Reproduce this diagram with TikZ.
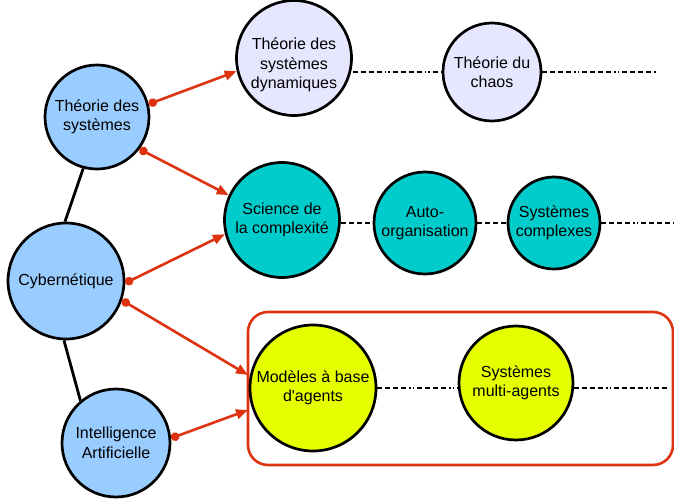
\documentclass[tikz,border=0pt]{standalone}
\usepackage{fontspec}
\setmainfont{Liberation Sans}[Ligatures=TeXOff]
\usetikzlibrary{arrows.meta}
\definecolor{lblue}{HTML}{99CCFF}
\definecolor{lav}{HTML}{E6E6FF}
\definecolor{teal2}{HTML}{00CCCC}
\definecolor{yel}{HTML}{E6FF00}
\definecolor{rd}{HTML}{DD3311}
\begin{document}
\begin{tikzpicture}[x=1pt,y=-1pt,
  circ/.style={circle,draw=black,line width=2.7pt,align=center,inner sep=0pt,font=\fontsize{16}{19.5}\selectfont},
  txt/.style={align=center,inner sep=0pt,font=\fontsize{16}{19.5}\selectfont},
  link/.style={line width=2.8pt,black},
  rarrow/.style={draw=rd,line width=2.6pt,{Circle[length=8.5pt]}-{Triangle[length=12pt,width=9.5pt]}},
  chain/.style={line width=2.7pt,black,dash pattern=on 5pt off 3pt on 5pt off 3pt on 5pt off 3pt on 5pt off 3pt on 1.5pt off 2pt on 1.5pt off 3pt}]
\useasboundingbox (0,0) rectangle (674,502);
\draw[rd,line width=2.6pt,rounded corners=20pt] (248,312) rectangle (673,465);
\node[circ,fill=lblue,minimum size=104pt] (ts) at (97,117) {Théorie des\\systèmes};
\node[circ,fill=lblue,minimum size=116pt] (cy) at (66,281) {Cybernétique};
\node[circ,fill=lblue,minimum size=108pt] (ia) at (116,443) {Intelligence\\Artificielle};
\node[circ,fill=lav,minimum size=115pt] (tsd) at (294,58) {};
\node[txt] (tsdl) at (294,65) {Théorie des\\systèmes\\dynamiques};
\node[circ,fill=lav,minimum size=98pt] (tc) at (492,72) {Théorie du\\chaos};
\node[circ,fill=teal2,minimum size=115pt] (sc) at (282,220) {Science de\\la complexité};
\node[circ,fill=teal2,minimum size=102pt] (ao) at (425,223) {Auto-\\organisation};
\node[circ,fill=teal2,minimum size=92pt] (sx) at (554,223) {Systèmes\\complexes};
\node[circ,fill=yel,minimum size=126pt] (mb) at (313,388) {Modèles à base\\d'agents};
\node[circ,fill=yel,minimum size=114pt] (sma) at (516,383) {Systèmes\\multi-agents};
\coordinate (e1) at (656,72);
\coordinate (e2) at (674,223);
\coordinate (e3) at (670,388);
\coordinate (r1) at (248,375);
\coordinate (r2) at (248,410);
\draw[link] (ts.255) -- (cy.91);
\draw[link] (cy.268) -- (ia.130);
\draw[chain] (tsd.east |- 0,72) -- (tc.west |- 0,72);
\draw[chain] (tc.east |- 0,72) -- (e1);
\draw[chain] (sc.east |- 0,223) -- (ao.west |- 0,223);
\draw[chain] (ao.east |- 0,223) -- (sx.west |- 0,223);
\draw[chain] (sx.east |- 0,223) -- (e2);
\draw[chain] (mb.east |- 0,388) -- (sma.west |- 0,388);
\draw[chain] (sma.east |- 0,388) -- (e3);
\draw[rarrow] (ts.14) -- (tsd.193);
\draw[rarrow] (ts.-37) -- (sc.155);
\draw[rarrow] (cy.-2) -- (sc.194);
\draw[rarrow] (cy.-19) -- (r1);
\draw[rarrow] (ia.5) -- (r2);
\end{tikzpicture}
\end{document}
